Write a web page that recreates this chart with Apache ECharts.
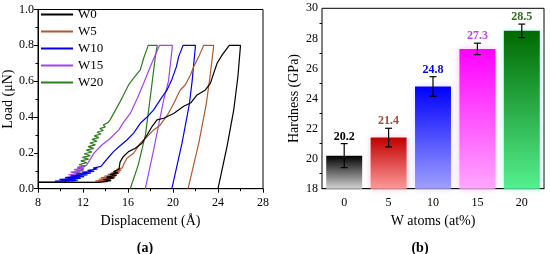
<!DOCTYPE html>
<html>
<head>
<meta charset="utf-8">
<script src="https://cdn.jsdelivr.net/npm/echarts@6/dist/echarts.min.js"></script>
<style>
  html, body { margin: 0; padding: 0; background: #fff; }
  #chart { width: 550px; height: 254px; }
</style>
</head>
<body>
<div id="chart"></div>
<script>
// (a) load–displacement curves, [displacement Å, load μN]
const w0 = [[8,0.035],[13.4,0.035],[14.5,0.045],[13.8,0.05],[14.8,0.06],[14.1,0.065],[15.0,0.075],[14.4,0.08],[15.1,0.088],[14.7,0.094],[15.2,0.11],[15.3,0.15],[15.6,0.18],[16.05,0.207],[16.65,0.226],[17.24,0.254],[17.69,0.30],[18.13,0.346],[18.58,0.384],[19.17,0.393],[20.06,0.42],[20.95,0.46],[21.6,0.48],[22.14,0.523],[22.88,0.551],[23.33,0.589],[23.62,0.645],[23.92,0.70],[24.37,0.747],[25.0,0.80],[26.0,0.80],[25.77,0.626],[25.4,0.44],[24.8,0.235],[24.0,0]]
const w5 = [[8,0.035],[12.8,0.035],[14.2,0.04],[13.1,0.044],[14.5,0.049],[13.4,0.053],[14.7,0.058],[13.6,0.062],[14.9,0.067],[13.9,0.071],[15.0,0.076],[14.2,0.08],[15.2,0.085],[14.5,0.089],[15.3,0.094],[14.8,0.098],[15.4,0.104],[15.0,0.108],[15.5,0.116],[15.6,0.135],[15.9,0.17],[16.5,0.198],[17.09,0.254],[17.69,0.29],[18.28,0.328],[18.87,0.356],[19.5,0.41],[20.1,0.48],[20.4,0.52],[20.65,0.551],[21.1,0.58],[21.55,0.635],[21.84,0.68],[22.29,0.737],[22.73,0.80],[23.62,0.80],[23.3,0.63],[22.95,0.47],[22.29,0.254],[21.34,0]]
const w10 = [[8,0.035],[10.8,0.035],[9.5,0.042],[11.4,0.047],[9.9,0.052],[11.8,0.057],[10.4,0.062],[12.1,0.067],[10.9,0.072],[12.4,0.077],[11.4,0.082],[12.7,0.087],[11.9,0.092],[13.0,0.097],[12.4,0.102],[13.3,0.11],[12.9,0.115],[13.6,0.125],[13.82,0.142],[14.71,0.207],[15.3,0.24],[15.9,0.272],[16.5,0.31],[17.09,0.365],[17.7,0.40],[18.28,0.44],[18.9,0.50],[19.47,0.551],[19.9,0.61],[20.3,0.68],[20.5,0.737],[20.9,0.80],[22.0,0.80],[21.7,0.6],[21.45,0.47],[20.8,0.254],[19.9,0]]
const w15 = [[8,0.035],[10.8,0.035],[11.3,0.045],[10.3,0.05],[11.5,0.058],[10.5,0.064],[11.6,0.072],[10.7,0.078],[11.8,0.086],[10.9,0.092],[11.9,0.1],[11.2,0.106],[12.1,0.114],[11.5,0.12],[12.3,0.13],[13.0,0.2],[13.67,0.244],[14.41,0.28],[15.2,0.33],[15.6,0.37],[16.2,0.42],[16.8,0.5],[17.39,0.589],[17.98,0.68],[18.8,0.80],[19.95,0.80],[19.6,0.6],[19.17,0.495],[18.28,0.216],[17.54,0]]
const w20 = [[8,0.035],[10.6,0.035],[9.9,0.04],[11.55,0.045],[11.05,0.055],[11.75,0.065],[11.2,0.075],[11.9,0.085],[11.35,0.095],[12.05,0.105],[11.5,0.115],[12.2,0.125],[11.65,0.135],[12.35,0.145],[11.8,0.155],[12.5,0.165],[11.95,0.175],[12.65,0.185],[12.1,0.195],[12.8,0.205],[12.3,0.215],[12.95,0.225],[12.45,0.235],[13.1,0.245],[12.6,0.255],[13.25,0.265],[12.8,0.275],[13.4,0.285],[13.0,0.295],[13.6,0.305],[13.25,0.315],[13.8,0.325],[13.5,0.335],[14.0,0.345],[13.8,0.355],[14.25,0.37],[14.41,0.384],[15.3,0.486],[15.6,0.523],[16.05,0.579],[16.5,0.617],[17.09,0.663],[17.39,0.728],[17.8,0.80],[18.6,0.80],[18.43,0.737],[17.98,0.51],[17.55,0.3],[16.9,0.13],[16.2,0]]

// (b) hardness vs W content
const categories = ['0', '5', '10', '15', '20']
const hardness = [20.2, 21.4, 24.8, 27.3, 28.5]
const hardnessErr = [0.8, 0.62, 0.65, 0.38, 0.45]
const curveNames = ['W0', 'W5', 'W10', 'W15', 'W20']

const FONT = 'Liberation Serif'
const lineColors = ['#000000', '#b5572b', '#0000ee', '#a142f4', '#2e7d1e']
const barTop = ['#000000', '#c00000', '#0000ff', '#ff00ff', '#006a00']
const barBottom = ['#d4d4d4', '#ff9a9a', '#a0a0ff', '#ffa8ff', '#55f090']
const labelColors = ['#000000', '#a0522d', '#0000ee', '#c43ff0', '#2e6b1e']
const haloColors = [null, 'rgba(255,150,190,0.7)', 'rgba(190,190,255,0.5)', 'rgba(255,160,230,0.7)', 'rgba(120,255,230,0.7)']

const chart = echarts.init(document.getElementById('chart'))

const axisCommon = {
  axisLine: { lineStyle: { color: '#000', width: 1 } },
  axisTick: { inside: false, length: 4, lineStyle: { color: '#000' } },
  minorTick: { show: true, splitNumber: 2, length: 2.5, lineStyle: { color: '#000' } },
  axisLabel: { color: '#000', fontFamily: FONT, fontSize: 12 },
  splitLine: { show: false },
  nameTextStyle: { color: '#000', fontFamily: FONT, fontSize: 14 }
}

const curveSeries = [w0, w5, w10, w15, w20].map((d, i) => ({
  name: curveNames[i],
  type: 'line',
  xAxisIndex: 0,
  yAxisIndex: 0,
  data: d,
  symbol: 'none',
  lineStyle: { color: lineColors[i], width: 1.2 },
  itemStyle: { color: lineColors[i] },
  z: 10 - i
}))

const barData = hardness.map((v, i) => ({
  value: v,
  itemStyle: {
    color: new echarts.graphic.LinearGradient(0, 0, 0, 1, [
      { offset: 0, color: barTop[i] },
      { offset: 1, color: barBottom[i] }
    ]),
    shadowColor: haloColors[i] || 'transparent',
    shadowBlur: haloColors[i] ? 7 : 0
  }
}))

const option = {
  animation: false,
  title: [
    { text: '(a)', left: 140, top: 236, textAlign: 'center',
      textStyle: { fontFamily: FONT, fontSize: 14, fontWeight: 'bold', color: '#000' } },
    { text: '(b)', left: 415, top: 236, textAlign: 'center',
      textStyle: { fontFamily: FONT, fontSize: 14, fontWeight: 'bold', color: '#000' } }
  ],
  legend: {
    data: curveNames,
    orient: 'vertical',
    left: 40,
    top: 8,
    padding: 0,
    itemWidth: 32,
    itemHeight: 12,
    itemGap: 4,
    itemStyle: { opacity: 0 },
    textStyle: { fontFamily: FONT, fontSize: 13, color: '#000' }
  },
  grid: [
    { left: 38, right: 287, top: 9.5, bottom: 65.3, show: true, borderColor: '#000', borderWidth: 1 },
    { left: 322, right: 6, top: 8.3, bottom: 65.3, show: true, borderColor: '#000', borderWidth: 1 }
  ],
  xAxis: [
    Object.assign({}, axisCommon, {
      gridIndex: 0, type: 'value', min: 8, max: 28, interval: 4,
      name: 'Displacement (Å)', nameLocation: 'middle', nameGap: 26
    }),
    Object.assign({}, axisCommon, {
      gridIndex: 1, type: 'category', data: categories,
      axisTick: { alignWithLabel: true, length: 4, lineStyle: { color: '#000' } },
      minorTick: { show: false },
      name: 'W atoms (at%)', nameLocation: 'middle', nameGap: 26
    })
  ],
  yAxis: [
    Object.assign({}, axisCommon, {
      gridIndex: 0, type: 'value', min: 0, max: 1, interval: 0.2,
      axisLabel: Object.assign({}, axisCommon.axisLabel, { formatter: v => v.toFixed(1), margin: 4 }),
      name: 'Load (μN)', nameLocation: 'middle', nameGap: 22
    }),
    Object.assign({}, axisCommon, {
      gridIndex: 1, type: 'value', min: 18, max: 30, interval: 2,
      axisLabel: Object.assign({}, axisCommon.axisLabel, { margin: 4 }),
      name: 'Hardness (GPa)', nameLocation: 'middle', nameGap: 21
    })
  ],
  series: curveSeries.concat([
    {
      type: 'bar',
      xAxisIndex: 1,
      yAxisIndex: 1,
      barWidth: '81%',
      data: barData
    },
    {
      type: 'custom',
      xAxisIndex: 1,
      yAxisIndex: 1,
      z: 5,
      data: hardness.map((v, i) => [i, v, hardnessErr[i]]),
      renderItem: (params, api) => {
        const i = api.value(0)
        const v = api.value(1)
        const e = api.value(2)
        const top = api.coord([i, v + e])
        const bot = api.coord([i, v - e])
        const cap = 3.5
        const style = { stroke: '#000', lineWidth: 1.2 }
        return {
          type: 'group',
          children: [
            { type: 'line', shape: { x1: top[0], y1: top[1], x2: bot[0], y2: bot[1] }, style },
            { type: 'line', shape: { x1: top[0] - cap, y1: top[1], x2: top[0] + cap, y2: top[1] }, style },
            { type: 'line', shape: { x1: bot[0] - cap, y1: bot[1], x2: bot[0] + cap, y2: bot[1] }, style },
            {
              type: 'text',
              x: top[0],
              y: top[1] - 7,
              style: {
                text: hardness[i].toFixed(1),
                fill: labelColors[i],
                font: 'bold 12px "' + FONT + '"',
                align: 'center',
                verticalAlign: 'middle'
              }
            }
          ]
        }
      }
    }
  ])
}

chart.setOption(option)
</script>
</body>
</html>
